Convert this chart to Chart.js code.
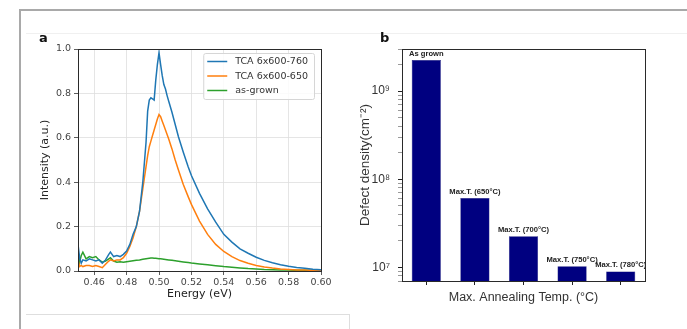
<!DOCTYPE html>
<html>
<head>
<meta charset="utf-8">
<script src="https://cdn.jsdelivr.net/npm/chart.js@4.4.1/dist/chart.umd.min.js"></script>
<style>
  html, body { margin: 0; padding: 0; background: #fff; }
  #wrap { position: relative; width: 687px; height: 329px; overflow: hidden; background: #fff; }
  canvas { position: absolute; left: 0; top: 0; }
  .tag { position: absolute; font: bold 13px "DejaVu Sans", sans-serif; line-height: 13px; color: #111; }
  .rule { position: absolute; }
</style>
</head>
<body>
<div id="wrap">
  <div class="rule" style="left:19px;top:9px;width:1.5px;height:320px;background:#a9a9a9"></div>
  <div class="rule" style="left:19px;top:9px;width:668px;height:1.5px;background:#a9a9a9"></div>
  <div class="rule" style="left:26px;top:33px;width:661px;height:1px;background:#f0f0f0"></div>
  <div class="rule" style="left:26px;top:314px;width:324px;height:1px;background:#dedede"></div>
  <div class="rule" style="left:349px;top:314px;width:1px;height:15px;background:#dedede"></div>
  <canvas id="spectra" width="687" height="329"></canvas>
  <canvas id="defects" width="687" height="329"></canvas>
  <div class="tag" style="left:39px;top:31px">a</div>
  <div class="tag" style="left:380px;top:31px">b</div>
</div>
<script>
// ---- Panel a: photoluminescence spectra ----
const energy = [
  0.450, 0.451, 0.452, 0.453, 0.455, 0.457, 0.459, 0.461, 0.463, 0.465,
  0.467, 0.469, 0.470, 0.472, 0.474, 0.476, 0.478, 0.480, 0.482, 0.484,
  0.486, 0.488, 0.490, 0.491, 0.492, 0.493, 0.494, 0.495, 0.496, 0.497,
  0.498, 0.499, 0.500, 0.501, 0.502, 0.503, 0.504, 0.505, 0.506, 0.508,
  0.510, 0.512, 0.515, 0.518, 0.520, 0.525, 0.530, 0.535, 0.540, 0.545,
  0.550, 0.555, 0.560, 0.565, 0.570, 0.575, 0.580, 0.585, 0.590, 0.595, 0.600
];
const tca760 = [
  0.120, 0.060, 0.035, 0.050, 0.045, 0.055, 0.050, 0.045, 0.050, 0.035,
  0.050, 0.075, 0.085, 0.065, 0.070, 0.065, 0.075, 0.090, 0.120, 0.165,
  0.200, 0.270, 0.400, 0.490, 0.580, 0.720, 0.770, 0.780, 0.775, 0.770,
  0.860, 0.930, 0.983, 0.930, 0.880, 0.840, 0.820, 0.790, 0.765, 0.715,
  0.660, 0.605, 0.535, 0.470, 0.430, 0.350, 0.280, 0.220, 0.165, 0.130,
  0.100, 0.080, 0.062, 0.048, 0.037, 0.028, 0.021, 0.016, 0.012, 0.008, 0.006
];
const tca650 = [
  0.050, 0.020, 0.025, 0.020, 0.025, 0.025, 0.020, 0.025, 0.020, 0.015,
  0.030, 0.045, 0.050, 0.045, 0.050, 0.050, 0.060, 0.080, 0.110, 0.150,
  0.200, 0.270, 0.370, 0.420, 0.470, 0.520, 0.560, 0.585, 0.610, 0.635,
  0.660, 0.685, 0.705, 0.695, 0.675, 0.655, 0.635, 0.615, 0.595, 0.550,
  0.500, 0.455, 0.390, 0.335, 0.300, 0.225, 0.165, 0.120, 0.088, 0.065,
  0.047, 0.035, 0.025, 0.018, 0.013, 0.009, 0.007, 0.005, 0.004, 0.003, 0.002
];
const asGrown = [
  0.090, 0.040, 0.070, 0.085, 0.055, 0.065, 0.060, 0.065, 0.050, 0.040,
  0.045, 0.055, 0.060, 0.045, 0.040, 0.042, 0.040, 0.042, 0.044, 0.046,
  0.048, 0.050, 0.053, 0.054, 0.055, 0.056, 0.057, 0.058, 0.058, 0.057,
  0.057, 0.056, 0.055, 0.055, 0.054, 0.053, 0.052, 0.051, 0.050, 0.048,
  0.046, 0.044, 0.041, 0.038, 0.036, 0.032, 0.028, 0.024, 0.020, 0.017,
  0.014, 0.011, 0.009, 0.007, 0.006, 0.005, 0.004, 0.003, 0.003, 0.002, 0.002
];
const seriesNames = ['TCA 6x600-760', 'TCA 6x600-650', 'as-grown'];
const seriesColors = ['#1f77b4', '#ff7f0e', '#2ca02c'];
const energyTicks = [0.46, 0.48, 0.50, 0.52, 0.54, 0.56, 0.58, 0.60];
const intensityTicks = [0.0, 0.2, 0.4, 0.6, 0.8, 1.0];

// ---- Panel b: defect density after annealing ----
const barTags = ['As grown', 'Max.T. (650°C)', 'Max.T. (700°C)', 'Max.T. (750°C)', 'Max.T. (780°C)'];
const defectDensity = [2.25e9, 6.1e7, 2.25e7, 1.03e7, 9.0e6];
const densityMajorTicks = [1e7, 1e8, 1e9];
const densitySup = { 7: '⁷', 8: '⁸', 9: '⁹' };

const mpl = '"DejaVu Sans", sans-serif';
const arial = '"Liberation Sans", Arial, sans-serif';

// full rectangle round the plotting area
const frame = {
  id: 'frame',
  afterDraw(chart) {
    const a = chart.chartArea, c = chart.ctx;
    c.save();
    c.strokeStyle = '#2a2a2a';
    c.lineWidth = 1;
    c.strokeRect(Math.round(a.left) + 0.5, Math.round(a.top) + 0.5,
                 Math.round(a.right - a.left), Math.round(a.bottom - a.top));
    c.restore();
  }
};

// legend box in the upper right of the plotting area
const insetLegend = {
  id: 'insetLegend',
  afterDraw(chart) {
    const a = chart.chartArea, c = chart.ctx;
    c.save();
    c.font = '9.5px ' + mpl;
    const sets = chart.data.datasets;
    const tw = Math.max(...sets.map(d => c.measureText(d.label).width));
    const w = 4 + 20 + 8 + tw + 6;
    const h = 46;
    const x0 = a.right - 7 - w, y0 = a.top + 4;
    c.fillStyle = 'rgba(255,255,255,0.85)';
    c.strokeStyle = '#d6d6d6';
    c.lineWidth = 1;
    c.beginPath();
    c.roundRect(x0 + 0.5, y0 + 0.5, w, h, 2);
    c.fill();
    c.stroke();
    sets.forEach((d, i) => {
      const y = y0 + 8.5 + i * 14.5;
      c.strokeStyle = d.borderColor;
      c.lineWidth = 1.5;
      c.beginPath();
      c.moveTo(x0 + 4, y);
      c.lineTo(x0 + 24, y);
      c.stroke();
      c.fillStyle = '#333';
      c.textBaseline = 'middle';
      c.fillText(d.label, x0 + 32, y + 0.5);
    });
    c.restore();
  }
};

new Chart(document.getElementById('spectra'), {
  type: 'line',
  data: {
    datasets: [tca760, tca650, asGrown].map((vals, i) => ({
      label: seriesNames[i],
      data: energy.map((e, k) => ({ x: e, y: vals[k] })),
      borderColor: seriesColors[i],
      borderWidth: 1.5,
      pointRadius: 0,
      tension: 0,
      fill: false
    }))
  },
  options: {
    responsive: false,
    animation: false,
    events: [],
    layout: { padding: { left: 33, right: 366, top: 49, bottom: 28 } },
    plugins: { legend: { display: false }, tooltip: { enabled: false } },
    scales: {
      x: {
        type: 'linear',
        min: 0.45,
        max: 0.60,
        afterBuildTicks: s => { s.ticks = energyTicks.map(v => ({ value: v })); },
        afterFit: s => { s.height = 30; },
        ticks: { font: { family: mpl, size: 9.5 }, color: '#444', padding: 2,
                 maxRotation: 0, autoSkip: false, callback: v => v.toFixed(2) },
        grid: { color: '#dedede', lineWidth: 0.8, tickColor: '#333', tickLength: 4 },
        border: { color: '#2a2a2a', width: 1 },
        title: { display: true, text: 'Energy (eV)', color: '#222',
                 font: { family: mpl, size: 11 }, padding: { top: 0, bottom: 0 } }
      },
      y: {
        min: 0,
        max: 1,
        afterBuildTicks: s => { s.ticks = intensityTicks.map(v => ({ value: v })); },
        afterFit: s => { s.width = 45; },
        ticks: { font: { family: mpl, size: 9.5 }, color: '#444', padding: 3,
                 autoSkip: false, callback: v => v.toFixed(1) },
        grid: { color: '#dedede', lineWidth: 0.8, tickColor: '#333', tickLength: 4 },
        border: { color: '#2a2a2a', width: 1 },
        title: { display: true, text: 'Intensity (a.u.)', color: '#222',
                 font: { family: mpl, size: 11 }, padding: { top: 5.4, bottom: 0 } }
      }
    }
  },
  plugins: [frame, insetLegend]
});

// text tags above each bar
const barLabels = {
  id: 'barLabels',
  afterDatasetsDraw(chart) {
    const c = chart.ctx;
    const meta = chart.getDatasetMeta(0);
    c.save();
    c.font = 'bold 7.6px ' + arial;
    c.fillStyle = '#222';
    c.textAlign = 'center';
    c.textBaseline = 'alphabetic';
    meta.data.forEach((bar, i) => {
      c.fillText(chart.data.labels[i], bar.x, bar.y - 4.5);
    });
    c.restore();
  }
};

new Chart(document.getElementById('defects'), {
  type: 'bar',
  data: {
    labels: barTags,
    datasets: [{
      data: defectDensity,
      backgroundColor: '#000080',
      borderColor: '#00006a',
      borderWidth: 0.5,
      barPercentage: 0.6,
      categoryPercentage: 1.0
    }]
  },
  options: {
    responsive: false,
    animation: false,
    events: [],
    layout: { padding: { left: 357, right: 42, top: 49, bottom: 24 } },
    plugins: { legend: { display: false }, tooltip: { enabled: false } },
    scales: {
      x: {
        afterFit: s => { s.height = 24; },
        ticks: { display: false },
        grid: { display: true, drawOnChartArea: false, drawTicks: true, offset: false,
                tickLength: 4, tickColor: '#222', tickWidth: 1 },
        border: { color: '#2a2a2a', width: 1 },
        title: { display: true, text: 'Max. Annealing Temp. (°C)', color: '#333',
                 font: { family: arial, size: 12.5 }, padding: { top: 0, bottom: 0 } }
      },
      y: {
        type: 'logarithmic',
        min: 7e6,
        max: 3e9,
        afterBuildTicks: s => {
          const t = [];
          for (let p = 6; p <= 9; p++) {
            for (let k = 1; k <= 9; k++) {
              const v = k * Math.pow(10, p);
              if (v >= 7e6 && v <= 3e9) t.push({ value: v, major: k === 1 });
            }
          }
          s.ticks = t;
        },
        afterFit: s => { s.width = 45; },
        ticks: {
          font: { family: arial, size: 12 }, color: '#333', padding: 8, autoSkip: false,
          callback: v => {
            const hit = densityMajorTicks.find(m => Math.abs(m - v) / m < 1e-6);
            return hit ? '10' + densitySup[Math.round(Math.log10(hit))] : '';
          }
        },
        grid: {
          display: true, drawOnChartArea: false, drawTicks: true, tickLength: 4,
          tickColor: ctx => (ctx.tick && ctx.tick.major) ? '#222' : '#555',
          tickWidth: ctx => (ctx.tick && ctx.tick.major) ? 1 : 0.6
        },
        border: { color: '#2a2a2a', width: 1 },
        title: { display: true, text: 'Defect density(cm⁻²)', color: '#333',
                 font: { family: arial, size: 13.5 }, padding: { top: 0.5, bottom: 0 } }
      }
    }
  },
  plugins: [frame, barLabels]
});
</script>
</body>
</html>
